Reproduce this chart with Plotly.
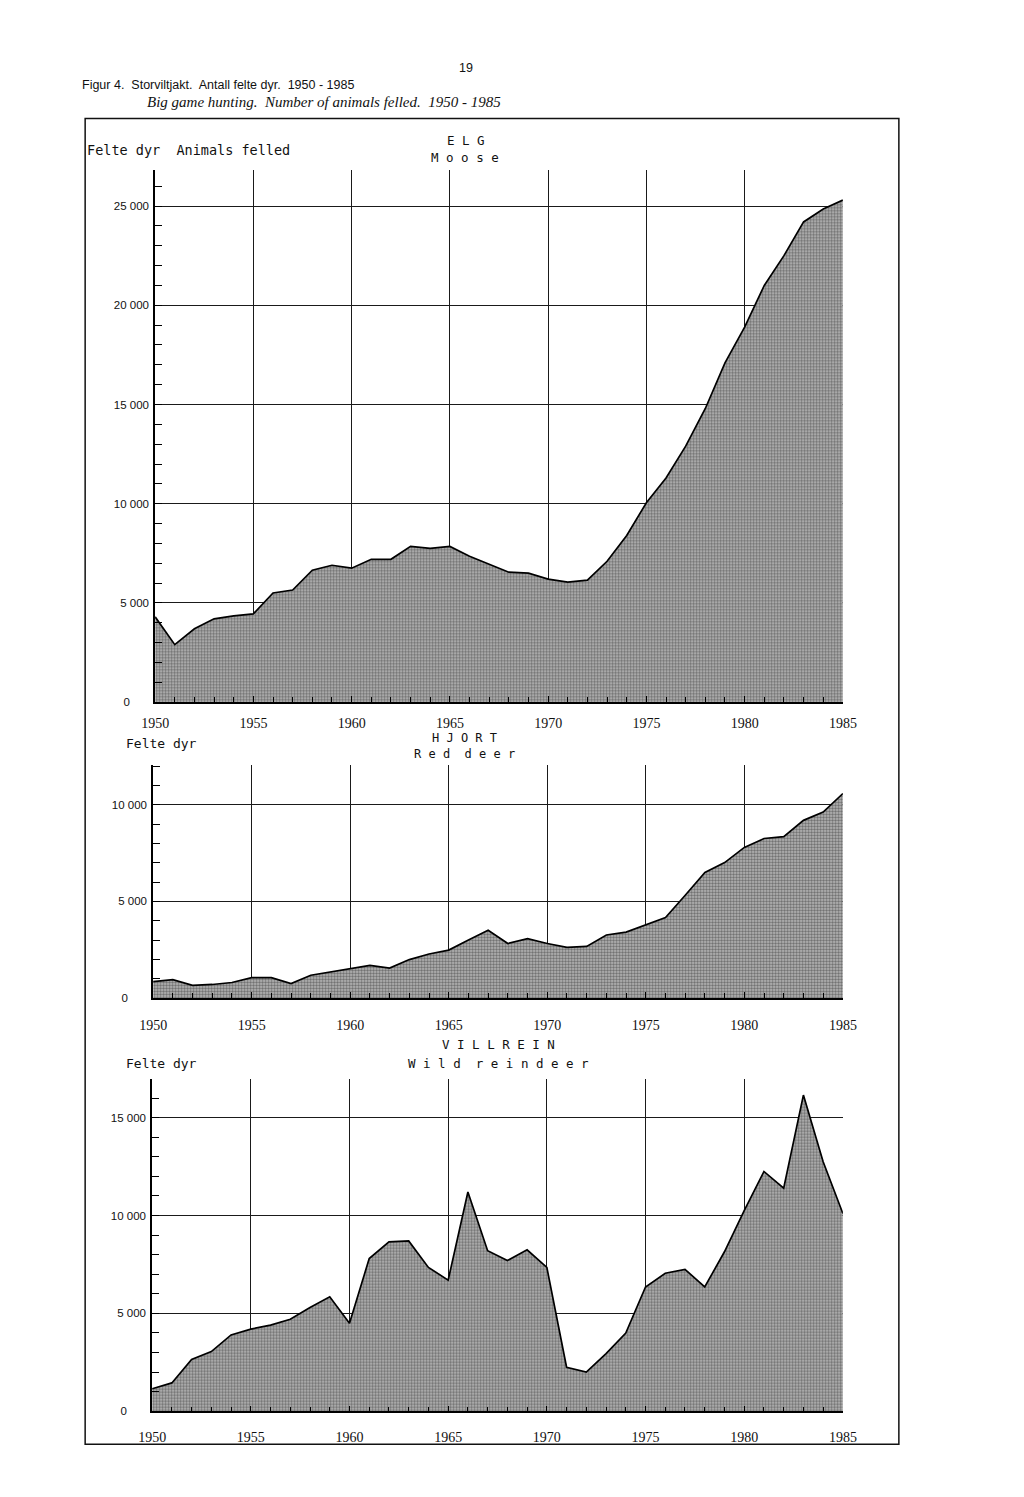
import plotly.graph_objects as go

years = list(range(1950, 1986))

moose = [4300, 2900, 3700, 4200, 4350, 4450, 5500, 5650, 6650, 6900,
         6750, 7200, 7200, 7850, 7750, 7850, 7350, 6950, 6550, 6500,
         6200, 6050, 6150, 7100, 8400, 10050, 11300, 12900, 14800, 17100,
         18900, 21000, 22500, 24200, 24850, 25300]

red_deer = [850, 950, 650, 700, 800, 1050, 1050, 750, 1180, 1350,
            1520, 1690, 1550, 1990, 2280, 2480, 3000, 3510, 2820, 3070,
            2820, 2620, 2670, 3260, 3410, 3770, 4170, 5320, 6500, 7010,
            7800, 8260, 8360, 9200, 9630, 10590]

reindeer = [1150, 1450, 2650, 3050, 3900, 4200, 4400, 4700, 5300, 5850,
            4500, 7800, 8650, 8700, 7350, 6700, 11200, 8200, 7700, 8250,
            7350, 2250, 2000, 2950, 4000, 6350, 7050, 7250, 6350, 8150,
            10250, 12250, 11400, 16150, 12750, 10100]

x_ticks = [1950, 1955, 1960, 1965, 1970, 1975, 1980, 1985]
moose_ticks = [0, 5000, 10000, 15000, 20000, 25000]
deer_ticks = [0, 5000, 10000]
rein_ticks = [0, 5000, 10000, 15000]

W, H = 1024, 1497
KX = 0.973


def px(x):
    return (512 + (x - 512) / KX) / W


def py(y):
    return 1 - y / H


def lab(v):
    if v == 0:
        return "0" + "\u00a0" * 6
    return f"{v:,}".replace(",", " ")


SANS = "Liberation Sans, Arial"
MONO = "DejaVu Sans Mono, Liberation Mono, monospace"
SERIF = "Liberation Serif, Times New Roman"

fig = go.Figure()

panels = [
    dict(data=moose, ticks=moose_ticks, top=26800, x0=155, x1=843, yt=171, yb=705, so=7),
    dict(data=red_deer, ticks=deer_ticks, top=12070, x0=153, x1=843, yt=768, yb=1002, so=13),
    dict(data=reindeer, ticks=rein_ticks, top=16990, x0=152, x1=843, yt=1083, yb=1417, so=12),
]

for i, p in enumerate(panels, start=1):
    sfx = "" if i == 1 else str(i)
    fig.add_trace(go.Scatter(
        x=years, y=p["data"], mode="lines",
        line=dict(color="black", width=1.7),
        fill="tozeroy",
        fillcolor="#a8a8a8",
        fillpattern=dict(shape=".", fgcolor="#202020", bgcolor="#bcbcbc",
                         size=3, solidity=0.5),
        xaxis="x" + sfx, yaxis="y" + sfx, showlegend=False,
        hoverinfo="x+y",
    ))
    xa = dict(
        domain=[px(p["x0"]), px(p["x1"])],
        range=[1950, 1985],
        anchor="y" + sfx,
        tickvals=x_ticks,
        ticktext=[str(v) for v in x_ticks],
        showgrid=True, gridcolor="#1a1a1a", gridwidth=1.1,
        showline=True, linecolor="black", linewidth=1.6,
        ticks="inside", ticklen=6, tickcolor="black", tickwidth=1.2,
        minor=dict(dtick=1, tick0=1950, ticks="inside", ticklen=5,
                   tickcolor="black", tickwidth=1.2, showgrid=False),
        zeroline=False,
        tickfont=dict(family=SERIF, size=14, color="#111"),
        ticklabelstandoff=p["so"],
        fixedrange=True,
    )
    ya = dict(
        domain=[py(p["yb"]), py(p["yt"])],
        range=[0, p["top"]],
        anchor="x" + sfx,
        tickvals=p["ticks"],
        ticktext=[lab(v) for v in p["ticks"]],
        showgrid=True, gridcolor="#1a1a1a", gridwidth=1.1,
        showline=True, linecolor="black", linewidth=1.6,
        ticks="inside", ticklen=7, tickcolor="black", tickwidth=1.2,
        minor=dict(dtick=1000, tick0=0, ticks="inside", ticklen=7,
                   tickcolor="black", tickwidth=1.2, showgrid=False),
        zeroline=False,
        tickfont=dict(family=SANS, size=11.5, color="#111"),
        ticklabelstandoff=2,
        fixedrange=True,
    )
    fig.update_layout(**{"xaxis" + sfx: xa, "yaxis" + sfx: ya})

ann = []


def text(t, x, y, anchor="left", size=12.5, family=SANS):
    ann.append(dict(text=t, x=px(x), y=py(y), xref="paper", yref="paper",
                    xanchor=anchor, yanchor="middle", showarrow=False,
                    font=dict(family=family, size=size, color="#111")))


text("19", 466, 68, "center", size=12.5, family=SANS)
text("Figur 4.&nbsp; Storviltjakt.&nbsp; Antall felte dyr.&nbsp; 1950 - 1985", 80, 85, size=12.5)
text("<i>Big game hunting.&nbsp; Number of animals felled.&nbsp; 1950 - 1985</i>", 145, 102,
     family=SERIF, size=15)
text("Felte dyr&nbsp; Animals felled", 85, 151, size=13.5, family=MONO)
text("E L G", 466, 141, "center", size=12.5, family=MONO)
text("M o o s e", 465, 158, "center", size=12.5, family=MONO)
text("Felte dyr", 124, 746, size=13, family=MONO)
text("H J O R T", 464, 741, "center", size=12, family=MONO)
text("R e d&nbsp; d e e r", 464, 757, "center", size=12, family=MONO)
text("V I L L R E I N", 498, 1049, "center", size=12.5, family=MONO)
text("W i l d&nbsp; r e i n d e e r", 498, 1068, "center", size=12.5, family=MONO)
text("Felte dyr", 124, 1068, size=13, family=MONO)

fig.update_layout(
    width=W, height=H,
    margin=dict(l=0, r=0, t=0, b=0),
    paper_bgcolor="white", plot_bgcolor="white",
    annotations=ann,
    shapes=[dict(type="rect", xref="paper", yref="paper",
                 x0=px(85), x1=px(899), y0=py(1450), y1=py(119),
                 line=dict(color="#111", width=1.5), layer="below")],
)

fig.write_html("out.html")
